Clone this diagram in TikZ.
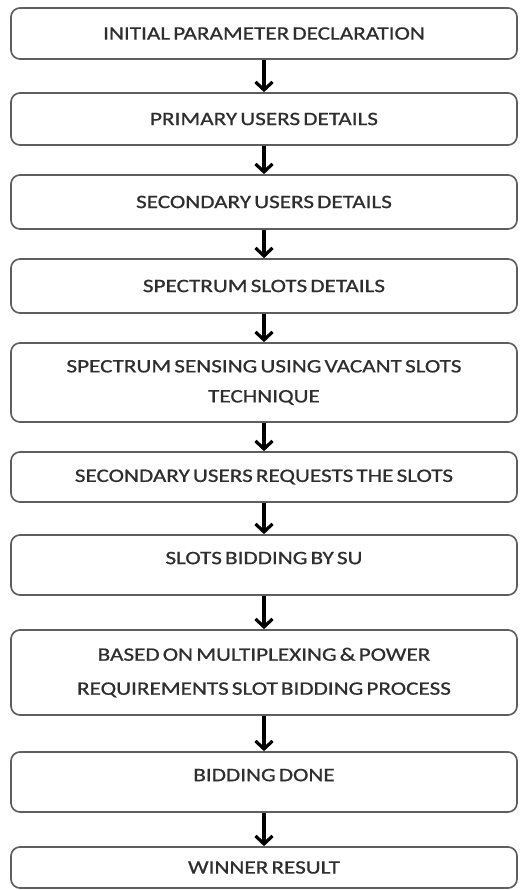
\documentclass[tikz,border=0pt]{standalone}
\usepackage{fontspec}
\setmainfont{Carlito}[FakeStretch=1.22, FakeBold=0.8, WordSpace=0.6]
\usepackage{tikz}
\usetikzlibrary{arrows.meta}
\definecolor{EDGE}{HTML}{5E5E5E}
\definecolor{TEXT}{HTML}{2E2E2E}
\begin{document}
\begin{tikzpicture}[x=1pt, y=-1pt,
    stepbox/.style={draw=EDGE, line width=1.7pt, rounded corners=9pt, minimum width=506pt,
        align=center, text=TEXT, inner sep=0pt, font=\fontsize{19}{30}\selectfont},
    flow/.style={black, line width=3.2pt, -{Straight Barb[length=8pt, width=17pt]}}]
    \useasboundingbox (0,0) rectangle (521,890);
    %
    \node[stepbox, minimum height=51pt] (init) at (264,33.5) {INITIAL PARAMETER DECLARATION};
    \node[stepbox, minimum height=52pt] (pu) at (264,119) {PRIMARY USERS DETAILS};
    \node[stepbox, minimum height=54pt] (su) at (264,202) {SECONDARY USERS DETAILS};
    \node[stepbox, minimum height=54pt] (slots) at (264,286) {SPECTRUM SLOTS DETAILS};
    \node[stepbox, minimum height=79pt] (sense) at (264,382.5) {SPECTRUM SENSING USING VACANT SLOTS\\TECHNIQUE};
    \node[stepbox, minimum height=50pt] (req) at (264,477) {SECONDARY USERS REQUESTS THE SLOTS};
    \node[stepbox, minimum height=60pt, text depth=14pt] (bid) at (264,565) {SLOTS BIDDING BY SU};
    \node[stepbox, minimum height=85pt, font=\fontsize{19}{34}\selectfont] (mux) at (264,672.5) {BASED ON MULTIPLEXING \& POWER\\REQUIREMENTS SLOT BIDDING PROCESS};
    \node[stepbox, minimum height=60pt, text depth=14pt] (done) at (264,782) {BIDDING DONE};
    \node[stepbox, minimum height=41pt] (win) at (264,867.5) {WINNER RESULT};
    %
    \foreach \a/\b in {init/pu, pu/su, su/slots, slots/sense, sense/req, req/bid, bid/mux, mux/done, done/win}
        \draw[flow] (\a.south) -- (\b.north);
\end{tikzpicture}
\end{document}
